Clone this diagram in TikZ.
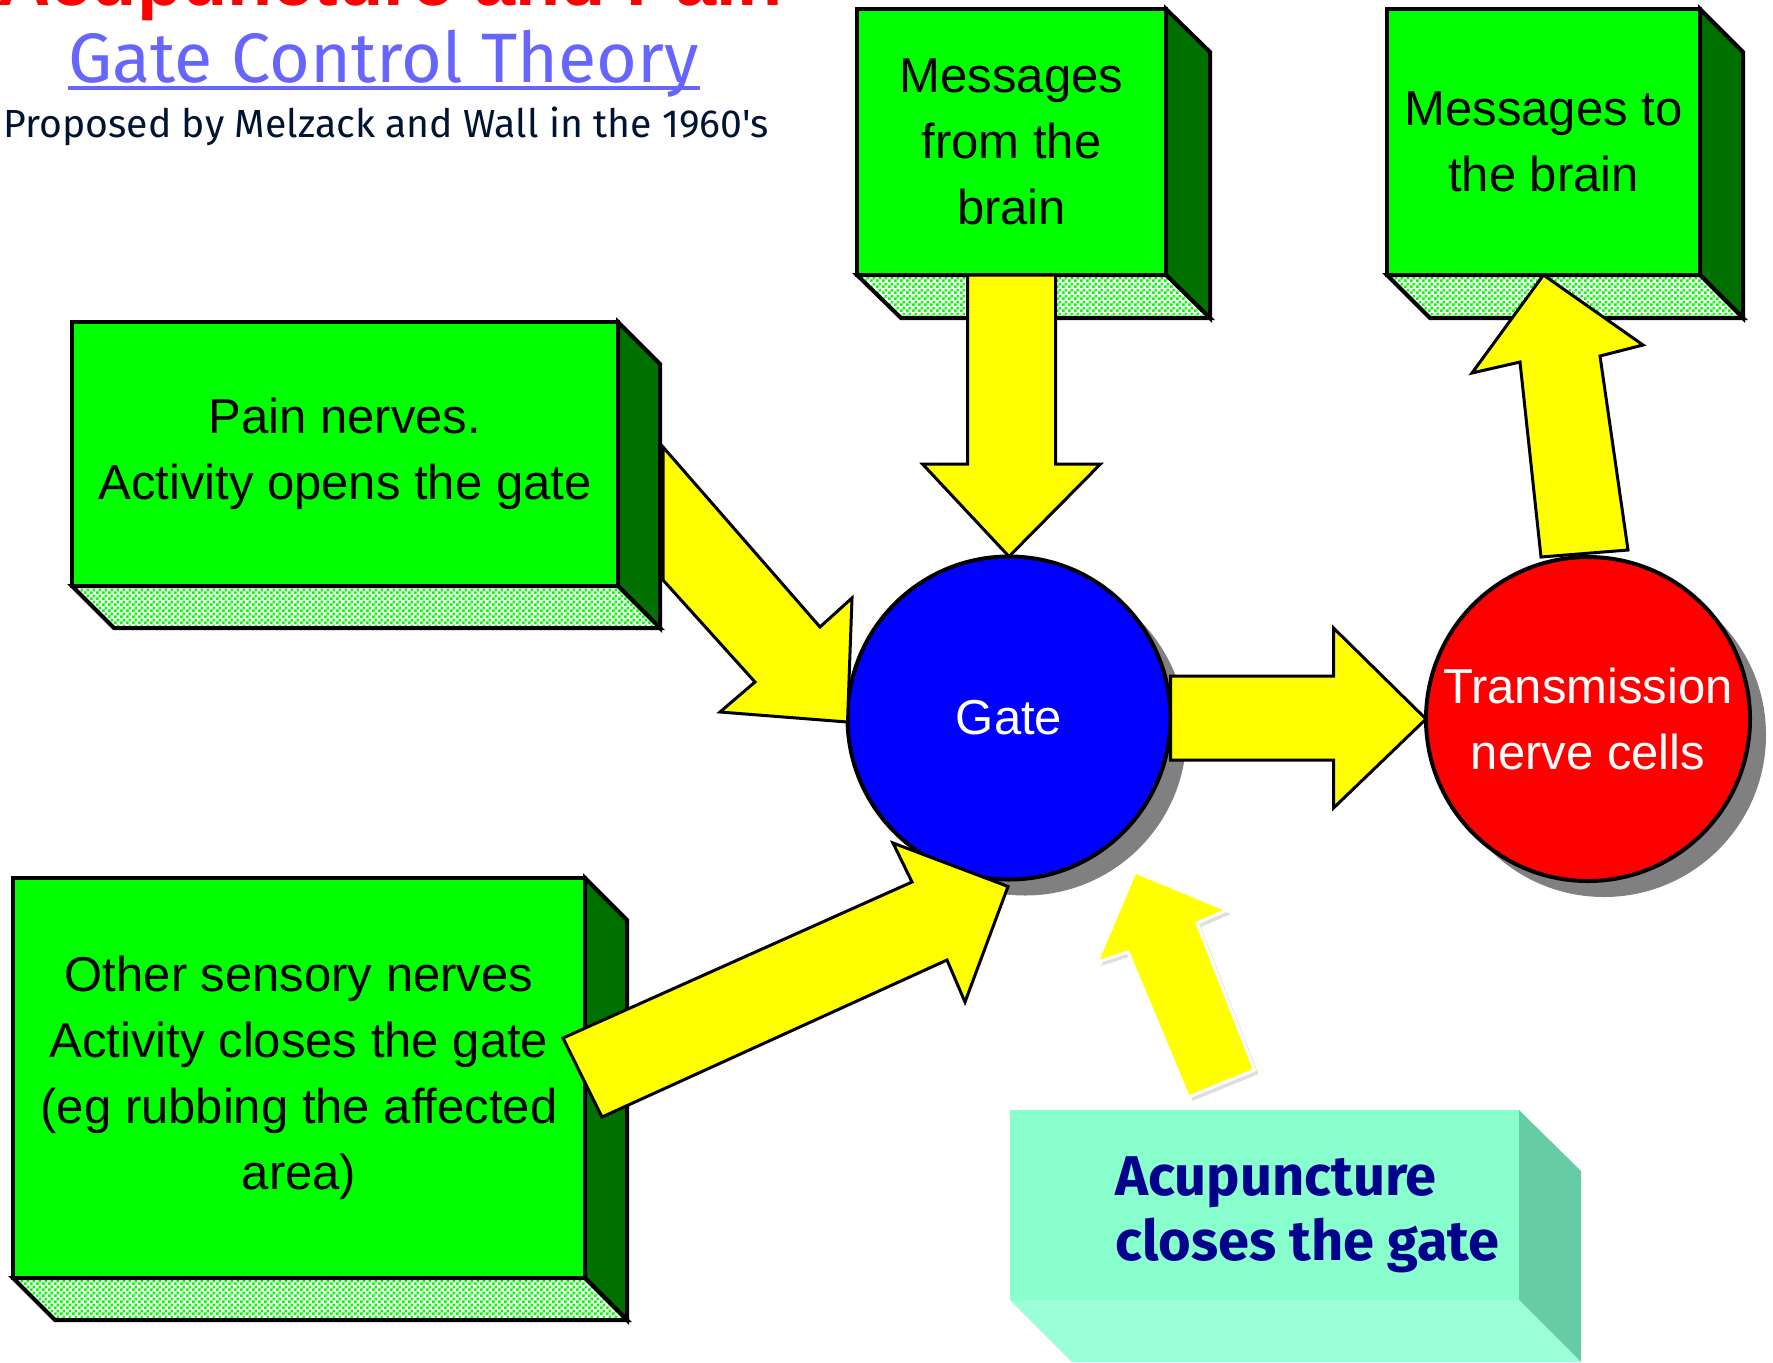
\documentclass[tikz,border=0pt]{standalone}
\usepackage{fontspec}
\setmainfont{Liberation Sans}
\newfontfamily\comicfont{Fira Sans}
\usetikzlibrary{calc,patterns,shadows}
\definecolor{boxgreen}{RGB}{0,255,0}
\definecolor{sidegreen}{RGB}{0,112,0}
\definecolor{arrowyellow}{RGB}{255,255,0}
\definecolor{gateblue}{RGB}{0,0,255}
\definecolor{cellred}{RGB}{255,0,0}
\definecolor{shadowgray}{RGB}{128,128,128}
\definecolor{theoryblue}{RGB}{102,102,255}
\definecolor{subnavy}{RGB}{0,20,50}
\definecolor{acufront}{RGB}{136,255,204}
\definecolor{acuside}{RGB}{102,204,163}
\definecolor{acufloor}{RGB}{153,255,214}
\definecolor{acublue}{RGB}{0,0,140}
\newcommand\pixfont{\fontsize{24.5}{33}\selectfont}
\pgfdeclarepatternformonly{finecheck}{\pgfqpoint{0pt}{0pt}}{\pgfqpoint{3pt}{3pt}}{\pgfqpoint{3pt}{3pt}}{\pgfpathrectangle{\pgfqpoint{0pt}{0pt}}{\pgfqpoint{1.5pt}{1.5pt}}\pgfpathrectangle{\pgfqpoint{1.5pt}{1.5pt}}{\pgfqpoint{1.5pt}{1.5pt}}\pgfusepath{fill}}

\begin{document}
\begin{tikzpicture}[x=0.5pt,y=-0.5pt,front/.style={draw,line width=2pt,fill=boxgreen,inner sep=0pt,outer sep=0pt,align=center,font=\pixfont},side/.style={draw,line width=2pt,fill=sidegreen,line join=miter},floor/.style={draw,line width=2pt,preaction={fill=white},pattern=finecheck,pattern color=boxgreen,line join=miter},cell/.style={circle,draw,line width=2pt,inner sep=0pt,outer sep=0pt,text=white,align=center,font=\pixfont,drop shadow={fill=shadowgray,opacity=1,shadow xshift=8pt,shadow yshift=-8pt}},blockarrow/.style={draw,line width=1.5pt,fill=arrowyellow,line join=miter},acuarrow/.style={draw=white,line width=1.5pt,fill=arrowyellow,line join=miter,drop shadow={opacity=0.25,shadow xshift=2pt,shadow yshift=-2pt}}]
\useasboundingbox (0,0) rectangle (1773,1362);
\clip (0,0) rectangle (1773,1362);
% headings
\node[anchor=base west,inner sep=0pt,text=cellred,font=\fontsize{37}{40}\selectfont\bfseries] (title) at (-3,5) {Acupuncture and Pain};
\node[anchor=base west,inner sep=0pt,text=theoryblue,font=\comicfont\fontsize{35}{40}\selectfont] (theory) at (68,82) {Gate Control Theory};
\draw[theoryblue,line width=2pt] ($(theory.base west)+(0,6)$) -- ($(theory.base east)+(0,6)$);
\node[anchor=base west,inner sep=0pt,text=subnavy,font=\comicfont\fontsize{19.6}{22}\selectfont] (proposed) at (3,137) {Proposed by Melzack and Wall in the 1960's};
% green boxes
\node[front,minimum width=154.5pt,minimum height=133pt] (from) at (1011.5,142) {Messages\\from the\\brain};
\path[side] (from.north east) -- ++(44,43) -- ($(from.south east)+(44,43)$) -- (from.south east) -- cycle;
\path[floor] (from.south west) -- (from.south east) -- ($(from.south east)+(44,43)$) -- ($(from.south west)+(44,43)$) -- cycle;
\node[front,minimum width=156.5pt,minimum height=133pt] (to) at (1543.5,142) {Messages to\\the brain};
\path[side] (to.north east) -- ++(43,43) -- ($(to.south east)+(43,43)$) -- (to.south east) -- cycle;
\path[floor] (to.south west) -- (to.south east) -- ($(to.south east)+(43,43)$) -- ($(to.south west)+(43,43)$) -- cycle;
\node[front,minimum width=273pt,minimum height=132pt] (pain) at (345,454) {Pain nerves.\\Activity opens the gate};
\path[side] (pain.north east) -- ++(42,42) -- ($(pain.south east)+(42,42)$) -- (pain.south east) -- cycle;
\path[floor] (pain.south west) -- (pain.south east) -- ($(pain.south east)+(42,42)$) -- ($(pain.south west)+(42,42)$) -- cycle;
\node[front,minimum width=286pt,minimum height=200pt] (other) at (299,1078) {Other sensory nerves\\Activity closes the gate\\(eg rubbing the affected\\area)};
\path[side] (other.north east) -- ++(42,42) -- ($(other.south east)+(42,42)$) -- (other.south east) -- cycle;
\path[floor] (other.south west) -- (other.south east) -- ($(other.south east)+(42,42)$) -- ($(other.south west)+(42,42)$) -- cycle;
% cells
\node[cell,fill=gateblue,minimum size=161.5pt] (gate) at (1009,718) {Gate};
\node[cell,fill=cellred,minimum size=162pt] (trans) at (1588,719) {Transmission\\nerve cells};
% arrows
\path[blockarrow] ($(from.south)+(-44,0)$) -- ($(from.south)+(-44,189)$) -- ($(from.south)+(-89,189)$) -- (gate.north) -- ($(from.south)+(89,189)$) -- ($(from.south)+(44,189)$) -- ($(from.south)+(44,0)$) -- cycle;
\path[blockarrow] ($(gate.east)+(0,-42)$) -- ++(163,0) -- ++(0,-48) -- (trans.west) -- ($(gate.east)+(163,90)$) -- ++(0,-48) -- ($(gate.east)+(0,42)$) -- cycle;
\path[blockarrow] ($(trans.north)+(-47,0)$) -- ($(trans.north)+(-68,-195)$) -- ($(trans.north)+(-116,-184)$) -- (to.south) -- ($(trans.north)+(55,-212)$) -- ($(trans.north)+(12,-201)$) -- ($(trans.north)+(40,-7)$) -- cycle;
\path[blockarrow] ($(pain.east)+(45,-7)$) -- (820,627) -- (852,598) -- ($(gate.west)+(0,4)$) -- (720,712) -- (755,682) -- ($(pain.east)+(45,126)$) -- cycle;
\path[blockarrow] ($(other.east)+(-22,-40)$) -- (912,882) -- (893,843) -- ($(gate.south)+(-1,7)$) -- (965,1002) -- (947,960) -- ($(other.east)+(17,39)$) -- cycle;
% acupuncture
\fill[acuside] (1519,1110) -- (1581,1171) -- (1581,1362) -- (1519,1300) -- cycle;
\fill[acufloor] (1010,1300) -- (1519,1300) -- (1581,1362) -- (1072,1362) -- cycle;
\node[fill=acufront,minimum width=254.5pt,minimum height=95pt,inner sep=0pt,outer sep=0pt] (acubox) at (1264.5,1205) {};
\node[anchor=west,inner sep=0pt,align=left,text=acublue,font=\comicfont\bfseries\fontsize{28}{32.5}\selectfont] (acu) at (1115,1215) {Acupuncture\\closes the gate};
\path[acuarrow] ($(acubox.north)+(-76,-13)$) -- (1128,952) -- (1097,962) -- (1135,872) -- (1227,910) -- (1197,923) -- ($(acubox.north)+(-10,-40)$) -- cycle;
\end{tikzpicture}
\end{document}
